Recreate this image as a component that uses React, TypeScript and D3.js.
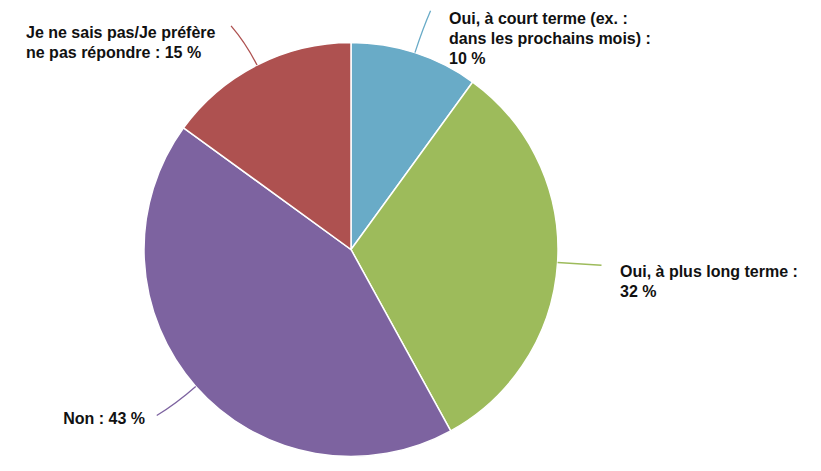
import React from "react";
import * as d3 from "d3";

const categories = [
  "Oui, à court terme (ex. : dans les prochains mois)",
  "Oui, à plus long terme",
  "Non",
  "Je ne sais pas/Je préfère ne pas répondre",
];
const values = [10, 32, 43, 15];
const labelLines = [
  ["Oui, à court terme (ex. :", "dans les prochains mois) :", "10 %"],
  ["Oui, à plus long terme :", "32 %"],
  ["Non : 43 %"],
  ["Je ne sais pas/Je préfère", "ne pas répondre : 15 %"],
];
const colors = ["#69ABC7", "#9DBB5B", "#7D63A0", "#AE5150"];

// label layout (x, first baseline, anchor)
const labelLayout = [
  { x: 449, y: 24, anchor: "start" },
  { x: 620, y: 277, anchor: "start" },
  { x: 145, y: 424, anchor: "end" },
  { x: 26, y: 38, anchor: "start" },
];
const endShift = [2, 0, -6, -6];

export default function App() {
  const W = 821, H = 471;
  const cx = 351, cy = 249.5, R = 207;
  const pie = d3.pie<number>().sort(null).value((d) => d)(values);
  const arc = d3.arc<d3.PieArcDatum<number>>().innerRadius(0).outerRadius(R);
  const onArc = (a: number, r: number) => [Math.sin(a) * r, -Math.cos(a) * r];

  return (
    <svg width={W} height={H} style={{ position: "absolute", left: 0, top: 0, background: "#fff" }}
      fontFamily="'Liberation Sans', Arial, sans-serif">
      <g transform={`translate(${cx},${cy})`}>
        {pie.map((p, i) => (
          <path key={i} d={arc(p) || ""} fill={colors[i]} stroke="#fff" strokeWidth={1.5} />
        ))}
        {pie.map((p, i) => {
          const m = (p.startAngle + p.endAngle) / 2;
          const [x0, y0] = onArc(m, R);
          const [x1, y1] = onArc(m, R + 25);
          const [x2, y2] = onArc(m, R + 44);
          return (
            <path key={"l" + i} d={`M${x0},${y0} Q${x1},${y1} ${x2 + endShift[i]},${y2}`}
              fill="none" stroke={colors[i]} strokeWidth={1.3} />
          );
        })}
      </g>
      {labelLines.map((lines, i) => (
        <text key={"t" + i} x={labelLayout[i].x} y={labelLayout[i].y}
          textAnchor={labelLayout[i].anchor} fontSize={16} fontWeight="bold" fill="#111">
          {lines.map((ln, j) => (
            <tspan key={j} x={labelLayout[i].x} dy={j === 0 ? 0 : 20}>{ln}</tspan>
          ))}
        </text>
      ))}
    </svg>
  );
}
